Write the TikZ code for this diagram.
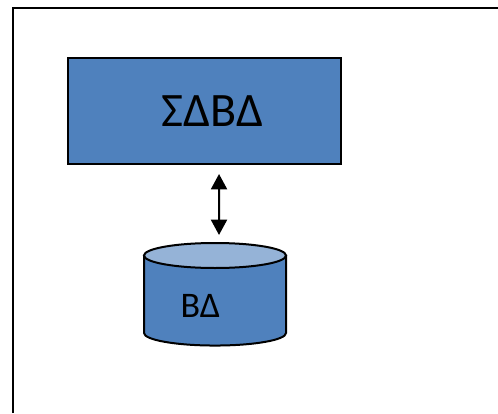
\documentclass[tikz,border=0pt]{standalone}
\usepackage{fontspec}
\setmainfont{Carlito}
\usetikzlibrary{arrows.meta,shapes.geometric}
\definecolor{boxblue}{HTML}{4F81BD}
\definecolor{topblue}{HTML}{95B3D7}
\tikzset{
  sysbox/.style={draw, fill=boxblue, line width=1.5pt, minimum width=204.5pt, minimum height=79.5pt, inner sep=0pt, outer sep=0pt},
  dbtop/.style={draw, ellipse, fill=topblue, line width=1.5pt, minimum width=106.5pt, minimum height=18.75pt, inner sep=0pt, outer sep=0pt},
  dbbody/.style={draw, fill=boxblue, line width=1.5pt},
  link/.style={{Triangle[length=11.5pt,width=12pt]}-{Triangle[length=11.5pt,width=12pt]}, line width=1.5pt}
}
\begin{document}
\begin{tikzpicture}[x=0.75pt, y=-0.75pt]
    \useasboundingbox (0,0) rectangle (498,413);
    \draw[line width=1.9pt] (13,413) -- (13,8) -- (498,8);

    \node[sysbox] (SDBD) at (204.5,111) {};
    \node[font=\fontsize{36}{42}\selectfont] (SDBDlabel) at (212.5,111) {ΣΔΒΔ};

    \draw[dbbody] (144,255.5) -- (144,333) arc[start angle=180, end angle=360, x radius=53.25pt, y radius=9.4pt] -- (286,255.5) -- cycle;
    \node[dbtop] (BD) at (215,255.5) {};
    \node[font=\fontsize{27}{32}\selectfont] (BDlabel) at (200.5,306) {ΒΔ};

    \draw[link, shorten <=7.5pt, shorten >=6pt] ([xshift=10.9pt]SDBD.south) -- ([xshift=3pt]BD.north);
\end{tikzpicture}
\end{document}
